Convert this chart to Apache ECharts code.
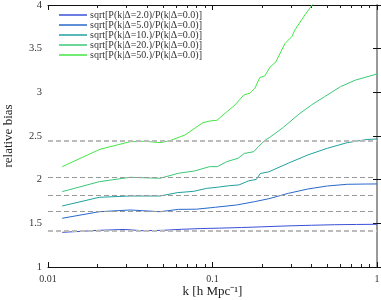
<!DOCTYPE html>
<html><head><meta charset="utf-8">
<script src="https://cdn.jsdelivr.net/npm/echarts@6/dist/echarts.min.js"></script>
<style>html,body{margin:0;padding:0;background:#fff}#c{width:381px;height:300px}</style>
</head><body><div id="c"></div>
<script>
// ---- data ----
const seriesNames = [
  'sqrt[P(k|Δ=2.0)/P(k|Δ=0.0)]',
  'sqrt[P(k|Δ=5.0)/P(k|Δ=0.0)]',
  'sqrt[P(k|Δ=10.)/P(k|Δ=0.0)]',
  'sqrt[P(k|Δ=20.)/P(k|Δ=0.0)]',
  'sqrt[P(k|Δ=50.)/P(k|Δ=0.0)]'
];
const seriesColors = ['#3a50d8', '#2a68cc', '#22a0a0', '#3cc878', '#44e644'];

const kD2 = [0.0122, 0.0205, 0.029, 0.038, 0.05, 0.065, 0.085, 0.11, 0.15, 0.2, 0.28, 0.4, 0.55, 0.75, 1.0];
const vD2 = [1.397, 1.42, 1.43, 1.415, 1.42, 1.432, 1.44, 1.445, 1.452, 1.46, 1.47, 1.478, 1.484, 1.487, 1.489];

const kD5 = [0.0122, 0.0205, 0.0316, 0.048, 0.062, 0.08, 0.104, 0.14, 0.18, 0.22, 0.29, 0.38, 0.5, 0.66, 0.85, 1.0];
const vD5 = [1.558, 1.633, 1.653, 1.633, 1.66, 1.662, 1.684, 1.71, 1.748, 1.782, 1.844, 1.893, 1.928, 1.947, 1.95, 1.951];

const kD10 = [0.0122, 0.0205, 0.0316, 0.048, 0.061, 0.077, 0.092, 0.107, 0.125, 0.145, 0.165, 0.185, 0.195, 0.22, 0.29, 0.38, 0.5, 0.66, 0.87, 1.0];
const vD10 = [1.699, 1.798, 1.813, 1.813, 1.851, 1.867, 1.90, 1.913, 1.93, 1.94, 1.985, 2.004, 2.07, 2.09, 2.19, 2.283, 2.36, 2.424, 2.46, 2.466];

const kD20 = [0.0122, 0.0205, 0.0316, 0.048, 0.062, 0.078, 0.096, 0.107, 0.122, 0.143, 0.156, 0.178, 0.19, 0.21, 0.225, 0.27, 0.33, 0.4, 0.48, 0.6, 0.74, 1.0];
const vD20 = [1.863, 1.977, 2.027, 2.016, 2.073, 2.10, 2.149, 2.149, 2.206, 2.245, 2.30, 2.32, 2.378, 2.455, 2.49, 2.60, 2.74, 2.856, 2.95, 3.065, 3.14, 3.21];

const kD50 = [0.0122, 0.0207, 0.0316, 0.0389, 0.048, 0.0552, 0.0681, 0.0875, 0.0966, 0.1064, 0.1158, 0.137, 0.155, 0.169, 0.181, 0.194, 0.208, 0.224, 0.243, 0.276, 0.304, 0.317, 0.365, 0.403, 0.44];
const vD50 = [2.149, 2.348, 2.435, 2.44, 2.424, 2.447, 2.512, 2.653, 2.672, 2.68, 2.74, 2.856, 2.97, 2.99, 3.047, 3.17, 3.188, 3.29, 3.35, 3.56, 3.64, 3.715, 3.887, 4.0, 4.09];

const hLines = [2.435, 2.027, 1.817, 1.638, 1.424];
const hLineColors = ['#bbbbbb', '#999999', '#999999', '#999999', '#bbbbbb'];
const hLineWidths = [2, 1, 1, 1, 2];

const xTickLabels = {0.01: '0.01', 0.1: '0.1', 1: '1'};
const yTickLabels = {1: '1', 1.5: '1.5', 2: '2', 2.5: '2.5', 3: '3', 3.5: '3.5', 4: '4'};
const minorTickPositions = [2,3,4,5,6,7,8,9,20,30,40,50,60,70,80,90].map(v => Math.log10(v / 100));

// ---- chart ----
const ks = [kD2, kD5, kD10, kD20, kD50];
const vs = [vD2, vD5, vD10, vD20, vD50];
const font = 'Liberation Serif';

const series = seriesNames.map((name, i) => ({
  name, type: 'line', xAxisIndex: 0, yAxisIndex: 0,
  data: ks[i].map((k, j) => [k, vs[i][j]]),
  showSymbol: false, symbol: 'none',
  lineStyle: {color: seriesColors[i], width: 1},
  itemStyle: {color: seriesColors[i]},
  clip: true, animation: false, z: 3
}));
series.unshift({
  type: 'line', xAxisIndex: 0, yAxisIndex: 0, data: [], silent: true, animation: false,
  markLine: {
    silent: true, symbol: 'none', animation: false, label: {show: false},
    data: hLines.map((y, i) => ({yAxis: y, lineStyle: {color: hLineColors[i], width: hLineWidths[i], type: [5, 3]}}))
  }
});

const minorAxis = (pos) => ({
  type: 'value', min: -2, max: 0, position: pos, gridIndex: 0,
  axisLine: {show: false}, splitLine: {show: false}, axisLabel: {show: false},
  axisTick: {show: true, inside: true, length: 3, customValues: minorTickPositions, lineStyle: {color: '#222', width: 1}}
});

const chart = echarts.init(document.getElementById('c'), null, {renderer: 'canvas'});
chart.setOption({
  backgroundColor: '#fff',
  animation: false,
  grid: {left: 48, right: 4, top: 5, bottom: 33, containLabel: false, outerBoundsMode: 'none'},
  legend: {
    orient: 'vertical', left: 59, top: 10, padding: 0, itemGap: 0,
    itemWidth: 28, itemHeight: 1.5, icon: 'rect',
    textStyle: {fontFamily: font, fontSize: 10, color: '#333', lineHeight: 9.7, padding: [0, 0, 0, -2]},
    data: seriesNames
  },
  xAxis: [
    {
      type: 'log', logBase: 10, min: 0.01, max: 1, position: 'bottom',
      name: 'k [h Mpc⁻¹]', nameLocation: 'middle', nameGap: 18, nameMoveOverlap: false,
      nameTextStyle: {fontFamily: font, fontSize: 13, color: '#222', verticalAlign: 'top'},
      axisLine: {show: true, lineStyle: {color: '#111', width: 1}},
      axisTick: {show: true, inside: true, length: 5, lineStyle: {color: '#111'}},
      axisLabel: {fontFamily: font, fontSize: 10, color: '#333', margin: 7, formatter: v => xTickLabels[+v.toPrecision(3)] ?? ''},
      splitLine: {show: false}
    },
    {
      type: 'log', logBase: 10, min: 0.01, max: 1, position: 'top',
      axisLine: {show: true, lineStyle: {color: '#111', width: 1}},
      axisTick: {show: true, inside: true, length: 5, lineStyle: {color: '#111'}},
      axisLabel: {show: false}, splitLine: {show: false}
    },
    minorAxis('bottom'),
    minorAxis('top')
  ],
  yAxis: [
    {
      type: 'value', min: 1, max: 4, interval: 0.5, position: 'left',
      name: 'relative bias', nameLocation: 'middle', nameGap: 33, nameRotate: 90, nameMoveOverlap: false,
      nameTextStyle: {fontFamily: font, fontSize: 13, color: '#222'},
      axisLine: {show: true, lineStyle: {color: '#111', width: 1}},
      axisTick: {show: true, inside: true, length: 4, lineStyle: {color: '#111'}},
      axisLabel: {fontFamily: font, fontSize: 10.5, color: '#333', margin: 6, formatter: v => yTickLabels[v] ?? ''},
      splitLine: {show: false}
    },
    {
      type: 'value', min: 1, max: 4, interval: 0.5, position: 'right',
      axisLine: {show: true, lineStyle: {color: '#999', width: 2}},
      axisTick: {show: true, inside: true, length: 4, lineStyle: {color: '#111'}},
      axisLabel: {show: false}, splitLine: {show: false}
    }
  ],
  series
});
</script></body></html>
